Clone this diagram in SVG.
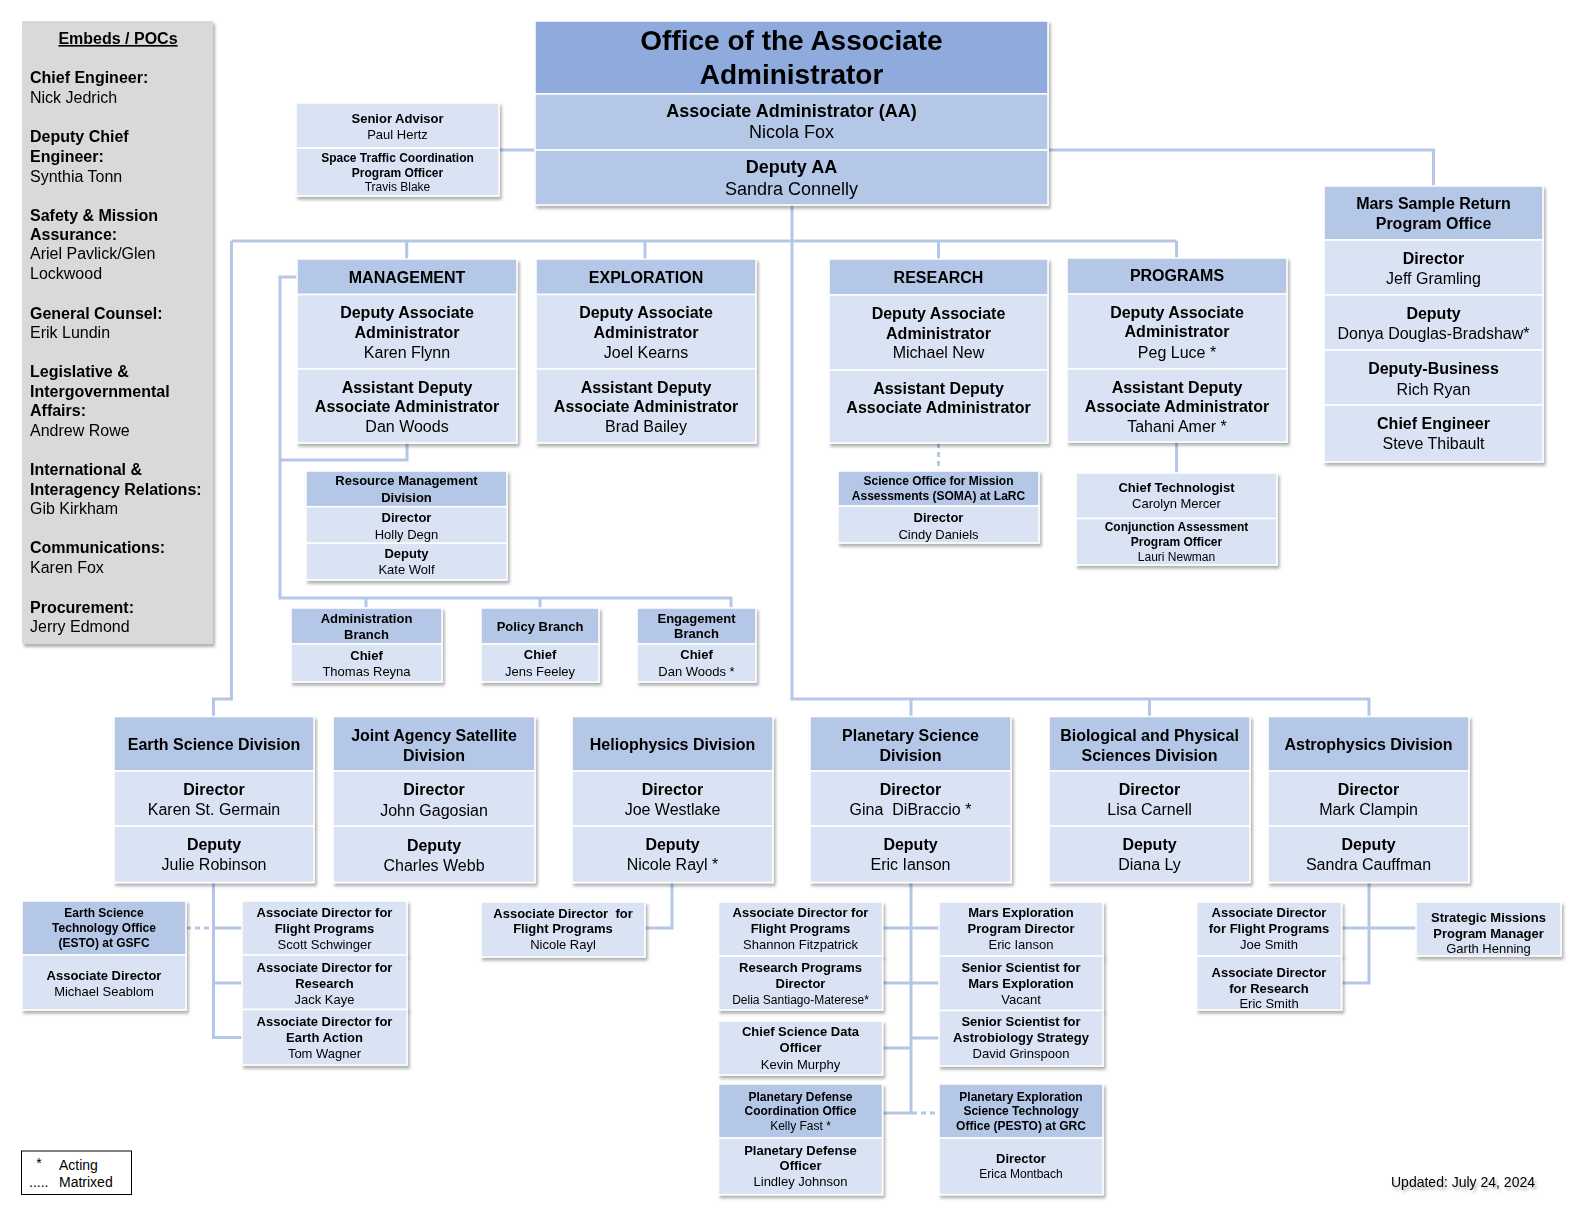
<svg xmlns="http://www.w3.org/2000/svg" width="1578" height="1208" viewBox="0 0 1578 1208">
<defs>
<filter id="sh" x="-10%" y="-10%" width="130%" height="140%">
<feDropShadow dx="2" dy="3" stdDeviation="1.8" flood-color="#000" flood-opacity="0.3"/>
</filter>
<style>
.t{fill:#8faadc;stroke:#fff;stroke-width:1.5}
.h{fill:#b4c7e7;stroke:#fff;stroke-width:1.5}
.b{fill:#dae3f3;stroke:#fff;stroke-width:1.5}
.g{fill:#d9d9d9}
text{font-family:"Liberation Sans",Arial,Helvetica,sans-serif;text-anchor:middle;fill:#000}
.s{text-anchor:start}
.B{font-weight:bold}
.f28{font-size:28px}
.f18{font-size:18px}
.f16{font-size:16px}
.f14{font-size:14px}
.f13{font-size:13px}
.f12{font-size:12px}
.c{fill:none;stroke:#b4c7e7;stroke-width:3}
.d{stroke-dasharray:5 4}
</style>
</defs>
<rect width="1578" height="1208" fill="#fff"/>

<g id="connectors">
<path class="c" d="M499,150 H535"/>
<path class="c" d="M1048,150 H1433.5 V186"/>
<path class="c" d="M792,205 V699 H1369 V716.5"/>
<path class="c" d="M231.5,241 H1176.6"/>
<path class="c" d="M406.7,241 V259 M645,241 V259 M938.5,241 V259 M1176.6,241 V258"/>
<path class="c" d="M231.5,241 V699 H213.5 V716.5"/>
<path class="c" d="M911,699 V716.5 M1149.5,699 V716.5"/>
<path class="c" d="M297,277 H280 V598 H731 V608 M407,443 V460 H280 M366,598 V608 M540,598 V608"/>
<path class="c d" d="M938.5,443 V471"/>
<path class="c" d="M1176.6,442 V473"/>
<path class="c" d="M213.5,882.5 V1037.5 H242 M213.5,928 H242 M213.5,983 H242"/>
<path class="c d" d="M186,928 H212"/>
<path class="c" d="M672,882.5 V928 H645"/>
<path class="c" d="M911,882.5 V1113 H882.6 M882.6,928 H939 M882.6,983 H939 M911,1038 H939 M882.6,1048 H911"/>
<path class="c d" d="M912,1113 H939"/>
<path class="c" d="M1369,882.5 V983 H1341.5 M1341.5,928 H1416"/>
</g>

<g id="embeds" filter="url(#sh)">
<rect class="g" x="22" y="21" width="191" height="623"/>
<text class="B f16" x="118" y="44" text-decoration="underline">Embeds / POCs</text>
<text class="s B f16" x="30" y="83">Chief Engineer:</text>
<text class="s f16" x="30" y="103">Nick Jedrich</text>
<text class="s B f16" x="30" y="141.5">Deputy Chief</text>
<text class="s B f16" x="30" y="161.5">Engineer:</text>
<text class="s f16" x="30" y="181.5">Synthia Tonn</text>
<text class="s B f16" x="30" y="221">Safety &amp; Mission</text>
<text class="s B f16" x="30" y="240">Assurance:</text>
<text class="s f16" x="30" y="259">Ariel Pavlick/Glen</text>
<text class="s f16" x="30" y="279">Lockwood</text>
<text class="s B f16" x="30" y="318.5">General Counsel:</text>
<text class="s f16" x="30" y="337.5">Erik Lundin</text>
<text class="s B f16" x="30" y="377">Legislative &amp;</text>
<text class="s B f16" x="30" y="397">Intergovernmental</text>
<text class="s B f16" x="30" y="416">Affairs:</text>
<text class="s f16" x="30" y="436">Andrew Rowe</text>
<text class="s B f16" x="30" y="474.5">International &amp;</text>
<text class="s B f16" x="30" y="494.5">Interagency Relations:</text>
<text class="s f16" x="30" y="513.5">Gib Kirkham</text>
<text class="s B f16" x="30" y="553">Communications:</text>
<text class="s f16" x="30" y="573">Karen Fox</text>
<text class="s B f16" x="30" y="612.5">Procurement:</text>
<text class="s f16" x="30" y="631.5">Jerry Edmond</text>
</g>

<g id="aa" filter="url(#sh)">
<rect class="t" x="535" y="21" width="513" height="73"/>
<rect class="h" x="535" y="94" width="513" height="56"/>
<rect class="h" x="535" y="150" width="513" height="55"/>
<text class="B f28" x="791.5" y="50">Office of the Associate</text>
<text class="B f28" x="791.5" y="83.5">Administrator</text>
<text class="B f18" x="791.5" y="117">Associate Administrator (AA)</text>
<text class="f18" x="791.5" y="138">Nicola Fox</text>
<text class="B f18" x="791.5" y="172.5">Deputy AA</text>
<text class="f18" x="791.5" y="194.5">Sandra Connelly</text>
</g>

<g id="senior-advisor" filter="url(#sh)">
<rect class="b" x="296" y="103" width="203" height="45"/>
<rect class="b" x="296" y="148" width="203" height="48"/>
<text class="B f13" x="397.5" y="123">Senior Advisor</text>
<text class="f13" x="397.5" y="139">Paul Hertz</text>
<text class="B f12" x="397.5" y="162">Space Traffic Coordination</text>
<text class="B f12" x="397.5" y="177">Program Officer</text>
<text class="f12" x="397.5" y="191">Travis Blake</text>
</g>

<g id="msr" filter="url(#sh)">
<rect class="h" x="1324" y="186" width="219" height="54"/>
<rect class="b" x="1324" y="240" width="219" height="55"/>
<rect class="b" x="1324" y="295" width="219" height="55"/>
<rect class="b" x="1324" y="350" width="219" height="55"/>
<rect class="b" x="1324" y="405" width="219" height="57"/>
<text class="B f16" x="1433.5" y="209">Mars Sample Return</text>
<text class="B f16" x="1433.5" y="229">Program Office</text>
<text class="B f16" x="1433.5" y="264">Director</text>
<text class="f16" x="1433.5" y="284">Jeff Gramling</text>
<text class="B f16" x="1433.5" y="319">Deputy</text>
<text class="f16" x="1433.5" y="339">Donya Douglas-Bradshaw*</text>
<text class="B f16" x="1433.5" y="374">Deputy-Business</text>
<text class="f16" x="1433.5" y="394.5">Rich Ryan</text>
<text class="B f16" x="1433.5" y="429">Chief Engineer</text>
<text class="f16" x="1433.5" y="449">Steve Thibault</text>
</g>

<g id="management" filter="url(#sh)">
<rect class="h" x="297" y="259" width="220" height="35.5"/>
<rect class="b" x="297" y="294.5" width="220" height="74.5"/>
<rect class="b" x="297" y="369" width="220" height="74"/>
<text class="B f16" x="407" y="282.5">MANAGEMENT</text>
<text class="B f16" x="407" y="318">Deputy Associate</text>
<text class="B f16" x="407" y="338">Administrator</text>
<text class="f16" x="407" y="357.5">Karen Flynn</text>
<text class="B f16" x="407" y="392.5">Assistant Deputy</text>
<text class="B f16" x="407" y="411.5">Associate Administrator</text>
<text class="f16" x="407" y="431.5">Dan Woods</text>
</g>

<g id="exploration" filter="url(#sh)">
<rect class="h" x="536" y="259" width="220" height="35.5"/>
<rect class="b" x="536" y="294.5" width="220" height="74.5"/>
<rect class="b" x="536" y="369" width="220" height="74"/>
<text class="B f16" x="646" y="282.5">EXPLORATION</text>
<text class="B f16" x="646" y="318">Deputy Associate</text>
<text class="B f16" x="646" y="338">Administrator</text>
<text class="f16" x="646" y="357.5">Joel Kearns</text>
<text class="B f16" x="646" y="392.5">Assistant Deputy</text>
<text class="B f16" x="646" y="411.5">Associate Administrator</text>
<text class="f16" x="646" y="431.5">Brad Bailey</text>
</g>

<g id="research" filter="url(#sh)">
<rect class="h" x="829" y="259" width="219" height="36"/>
<rect class="b" x="829" y="295" width="219" height="75"/>
<rect class="b" x="829" y="370" width="219" height="73"/>
<text class="B f16" x="938.5" y="282.5">RESEARCH</text>
<text class="B f16" x="938.5" y="319">Deputy Associate</text>
<text class="B f16" x="938.5" y="339">Administrator</text>
<text class="f16" x="938.5" y="358">Michael New</text>
<text class="B f16" x="938.5" y="393.5">Assistant Deputy</text>
<text class="B f16" x="938.5" y="413">Associate Administrator</text>
</g>

<g id="programs" filter="url(#sh)">
<rect class="h" x="1067" y="258" width="220" height="36"/>
<rect class="b" x="1067" y="294" width="220" height="75"/>
<rect class="b" x="1067" y="369" width="220" height="73"/>
<text class="B f16" x="1177" y="281">PROGRAMS</text>
<text class="B f16" x="1177" y="318">Deputy Associate</text>
<text class="B f16" x="1177" y="337">Administrator</text>
<text class="f16" x="1177" y="357.5">Peg Luce *</text>
<text class="B f16" x="1177" y="392.5">Assistant Deputy</text>
<text class="B f16" x="1177" y="411.5">Associate Administrator</text>
<text class="f16" x="1177" y="431.5">Tahani Amer *</text>
</g>

<g id="resource-management" filter="url(#sh)">
<rect class="h" x="306" y="471" width="201" height="35.7"/>
<rect class="b" x="306" y="506.7" width="201" height="36.6"/>
<rect class="b" x="306" y="543.3" width="201" height="36.7"/>
<text class="B f13" x="406.5" y="485">Resource Management</text>
<text class="B f13" x="406.5" y="501.5">Division</text>
<text class="B f13" x="406.5" y="522">Director</text>
<text class="f13" x="406.5" y="538.5">Holly Degn</text>
<text class="B f13" x="406.5" y="558">Deputy</text>
<text class="f13" x="406.5" y="574">Kate Wolf</text>
</g>

<g id="administration-branch" filter="url(#sh)">
<rect class="h" x="291" y="608" width="151" height="36"/>
<rect class="b" x="291" y="644" width="151" height="38"/>
<text class="B f13" x="366.5" y="623">Administration</text>
<text class="B f13" x="366.5" y="639">Branch</text>
<text class="B f13" x="366.5" y="659.5">Chief</text>
<text class="f13" x="366.5" y="675.5">Thomas Reyna</text>
</g>

<g id="policy-branch" filter="url(#sh)">
<rect class="h" x="481" y="608" width="118" height="36"/>
<rect class="b" x="481" y="644" width="118" height="38"/>
<text class="B f13" x="540" y="630.5">Policy Branch</text>
<text class="B f13" x="540" y="659">Chief</text>
<text class="f13" x="540" y="675.5">Jens Feeley</text>
</g>

<g id="engagement-branch" filter="url(#sh)">
<rect class="h" x="637" y="608" width="119" height="36"/>
<rect class="b" x="637" y="644" width="119" height="38"/>
<text class="B f13" x="696.5" y="622.5">Engagement</text>
<text class="B f13" x="696.5" y="638">Branch</text>
<text class="B f13" x="696.5" y="659">Chief</text>
<text class="f13" x="696.5" y="675.5">Dan Woods *</text>
</g>

<g id="soma" filter="url(#sh)">
<rect class="h" x="838" y="471" width="201" height="35"/>
<rect class="b" x="838" y="506" width="201" height="37"/>
<text class="B f12" x="938.5" y="485">Science Office for Mission</text>
<text class="B f12" x="938.5" y="500">Assessments (SOMA) at LaRC</text>
<text class="B f13" x="938.5" y="522">Director</text>
<text class="f13" x="938.5" y="538.5">Cindy Daniels</text>
</g>

<g id="chief-technologist" filter="url(#sh)">
<rect class="b" x="1076" y="473" width="201" height="45.5"/>
<rect class="b" x="1076" y="518.5" width="201" height="46.5"/>
<text class="B f13" x="1176.5" y="492">Chief Technologist</text>
<text class="f13" x="1176.5" y="508">Carolyn Mercer</text>
<text class="B f12" x="1176.5" y="531">Conjunction Assessment</text>
<text class="B f12" x="1176.5" y="546">Program Officer</text>
<text class="f12" x="1176.5" y="561">Lauri Newman</text>
</g>

<g id="earth-science" filter="url(#sh)">
<rect class="h" x="114" y="716.5" width="200" height="54.5"/>
<rect class="b" x="114" y="771" width="200" height="55"/>
<rect class="b" x="114" y="826" width="200" height="56.5"/>
<text class="B f16" x="214" y="750">Earth Science Division</text>
<text class="B f16" x="214" y="794.5">Director</text>
<text class="f16" x="214" y="815">Karen St. Germain</text>
<text class="B f16" x="214" y="850">Deputy</text>
<text class="f16" x="214" y="870">Julie Robinson</text>
</g>

<g id="jasd" filter="url(#sh)">
<rect class="h" x="333" y="716.5" width="202" height="54.5"/>
<rect class="b" x="333" y="771" width="202" height="55"/>
<rect class="b" x="333" y="826" width="202" height="56.5"/>
<text class="B f16" x="434" y="740.5">Joint Agency Satellite</text>
<text class="B f16" x="434" y="760.5">Division</text>
<text class="B f16" x="434" y="795">Director</text>
<text class="f16" x="434" y="815.5">John Gagosian</text>
<text class="B f16" x="434" y="850.5">Deputy</text>
<text class="f16" x="434" y="870.5">Charles Webb</text>
</g>

<g id="heliophysics" filter="url(#sh)">
<rect class="h" x="572" y="716.5" width="201" height="54.5"/>
<rect class="b" x="572" y="771" width="201" height="55"/>
<rect class="b" x="572" y="826" width="201" height="56.5"/>
<text class="B f16" x="672.5" y="750">Heliophysics Division</text>
<text class="B f16" x="672.5" y="794.5">Director</text>
<text class="f16" x="672.5" y="815">Joe Westlake</text>
<text class="B f16" x="672.5" y="850">Deputy</text>
<text class="f16" x="672.5" y="870">Nicole Rayl *</text>
</g>

<g id="planetary" filter="url(#sh)">
<rect class="h" x="810" y="716.5" width="201" height="54.5"/>
<rect class="b" x="810" y="771" width="201" height="55"/>
<rect class="b" x="810" y="826" width="201" height="56.5"/>
<text class="B f16" x="910.5" y="740.5">Planetary Science</text>
<text class="B f16" x="910.5" y="760.5">Division</text>
<text class="B f16" x="910.5" y="794.5">Director</text>
<text class="f16" x="910.5" y="815" xml:space="preserve">Gina  DiBraccio *</text>
<text class="B f16" x="910.5" y="850">Deputy</text>
<text class="f16" x="910.5" y="870">Eric Ianson</text>
</g>

<g id="bps" filter="url(#sh)">
<rect class="h" x="1049" y="716.5" width="201" height="54.5"/>
<rect class="b" x="1049" y="771" width="201" height="55"/>
<rect class="b" x="1049" y="826" width="201" height="56.5"/>
<text class="B f16" x="1149.5" y="740.5">Biological and Physical</text>
<text class="B f16" x="1149.5" y="760.5">Sciences Division</text>
<text class="B f16" x="1149.5" y="794.5">Director</text>
<text class="f16" x="1149.5" y="815">Lisa Carnell</text>
<text class="B f16" x="1149.5" y="850">Deputy</text>
<text class="f16" x="1149.5" y="870">Diana Ly</text>
</g>

<g id="astrophysics" filter="url(#sh)">
<rect class="h" x="1268" y="716.5" width="201" height="54.5"/>
<rect class="b" x="1268" y="771" width="201" height="55"/>
<rect class="b" x="1268" y="826" width="201" height="56.5"/>
<text class="B f16" x="1368.5" y="750">Astrophysics Division</text>
<text class="B f16" x="1368.5" y="794.5">Director</text>
<text class="f16" x="1368.5" y="815">Mark Clampin</text>
<text class="B f16" x="1368.5" y="850">Deputy</text>
<text class="f16" x="1368.5" y="870">Sandra Cauffman</text>
</g>

<g id="esto" filter="url(#sh)">
<rect class="h" x="22" y="901" width="164" height="54"/>
<rect class="b" x="22" y="955" width="164" height="55"/>
<text class="B f12" x="104" y="917">Earth Science</text>
<text class="B f12" x="104" y="932">Technology Office</text>
<text class="B f12" x="104" y="947">(ESTO) at GSFC</text>
<text class="B f13" x="104" y="979.5">Associate Director</text>
<text class="f13" x="104" y="995.5">Michael Seablom</text>
</g>

<g id="esd-flight" filter="url(#sh)">
<rect class="b" x="242" y="901" width="165" height="54"/>
<text class="B f13" x="324.5" y="916.5">Associate Director for</text>
<text class="B f13" x="324.5" y="932.5">Flight Programs</text>
<text class="f13" x="324.5" y="948.5">Scott Schwinger</text>
</g>
<g id="esd-research" filter="url(#sh)">
<rect class="b" x="242" y="955" width="165" height="54.5"/>
<text class="B f13" x="324.5" y="971.5">Associate Director for</text>
<text class="B f13" x="324.5" y="987.5">Research</text>
<text class="f13" x="324.5" y="1003.5">Jack Kaye</text>
</g>
<g id="esd-earth-action" filter="url(#sh)">
<rect class="b" x="242" y="1009.5" width="165" height="55.5"/>
<text class="B f13" x="324.5" y="1026">Associate Director for</text>
<text class="B f13" x="324.5" y="1042">Earth Action</text>
<text class="f13" x="324.5" y="1058">Tom Wagner</text>
</g>

<g id="helio-flight" filter="url(#sh)">
<rect class="b" x="481" y="902" width="164" height="55"/>
<text class="B f13" x="563" y="917.5" xml:space="preserve">Associate Director  for</text>
<text class="B f13" x="563" y="932.5">Flight Programs</text>
<text class="f13" x="563" y="948.5">Nicole Rayl</text>
</g>

<g id="psd-flight" filter="url(#sh)">
<rect class="b" x="718.5" y="902" width="164" height="54"/>
<text class="B f13" x="800.5" y="916.5">Associate Director for</text>
<text class="B f13" x="800.5" y="932.5">Flight Programs</text>
<text class="f13" x="800.5" y="948.5">Shannon Fitzpatrick</text>
</g>
<g id="psd-research" filter="url(#sh)">
<rect class="b" x="718.5" y="956" width="164" height="54"/>
<text class="B f13" x="800.5" y="971.5">Research Programs</text>
<text class="B f13" x="800.5" y="987.5">Director</text>
<text class="f12" x="800.5" y="1003.5">Delia Santiago-Materese*</text>
</g>
<g id="psd-data" filter="url(#sh)">
<rect class="b" x="718.5" y="1021" width="164" height="54"/>
<text class="B f13" x="800.5" y="1036">Chief Science Data</text>
<text class="B f13" x="800.5" y="1052">Officer</text>
<text class="f13" x="800.5" y="1068.5">Kevin Murphy</text>
</g>
<g id="pdco" filter="url(#sh)">
<rect class="h" x="718.5" y="1084" width="164" height="54"/>
<rect class="b" x="718.5" y="1138" width="164" height="56.6"/>
<text class="B f12" x="800.5" y="1101">Planetary Defense</text>
<text class="B f12" x="800.5" y="1115">Coordination Office</text>
<text class="f12" x="800.5" y="1130">Kelly Fast *</text>
<text class="B f13" x="800.5" y="1154.5">Planetary Defense</text>
<text class="B f13" x="800.5" y="1170">Officer</text>
<text class="f13" x="800.5" y="1186">Lindley Johnson</text>
</g>

<g id="psd-mars" filter="url(#sh)">
<rect class="b" x="939" y="902" width="164" height="54"/>
<text class="B f13" x="1021" y="916.5">Mars Exploration</text>
<text class="B f13" x="1021" y="932.5">Program Director</text>
<text class="f13" x="1021" y="948.5">Eric Ianson</text>
</g>
<g id="psd-mars-scientist" filter="url(#sh)">
<rect class="b" x="939" y="956" width="164" height="54.5"/>
<text class="B f13" x="1021" y="971.5">Senior Scientist for</text>
<text class="B f13" x="1021" y="987.5">Mars Exploration</text>
<text class="f13" x="1021" y="1003.5">Vacant</text>
</g>
<g id="psd-astrobiology" filter="url(#sh)">
<rect class="b" x="939" y="1010.5" width="164" height="55.5"/>
<text class="B f13" x="1021" y="1026">Senior Scientist for</text>
<text class="B f13" x="1021" y="1042">Astrobiology Strategy</text>
<text class="f13" x="1021" y="1058">David Grinspoon</text>
</g>
<g id="pesto" filter="url(#sh)">
<rect class="h" x="939" y="1084" width="164" height="54"/>
<rect class="b" x="939" y="1138" width="164" height="56.6"/>
<text class="B f12" x="1021" y="1101">Planetary Exploration</text>
<text class="B f12" x="1021" y="1115">Science Technology</text>
<text class="B f12" x="1021" y="1130">Office (PESTO) at GRC</text>
<text class="B f13" x="1021" y="1162.5">Director</text>
<text class="f12" x="1021" y="1177.5">Erica Montbach</text>
</g>

<g id="apd-flight" filter="url(#sh)">
<rect class="b" x="1196.6" y="902" width="145" height="54"/>
<text class="B f13" x="1269" y="916.5">Associate Director</text>
<text class="B f13" x="1269" y="932.5">for Flight Programs</text>
<text class="f13" x="1269" y="948.5">Joe Smith</text>
</g>
<g id="apd-research" filter="url(#sh)">
<rect class="b" x="1196.6" y="956" width="145" height="54"/>
<text class="B f13" x="1269" y="976.5">Associate Director</text>
<text class="B f13" x="1269" y="992.5">for Research</text>
<text class="f13" x="1269" y="1007.5">Eric Smith</text>
</g>
<g id="strategic-missions" filter="url(#sh)">
<rect class="b" x="1416" y="902" width="145" height="54"/>
<text class="B f13" x="1488.5" y="921.5">Strategic Missions</text>
<text class="B f13" x="1488.5" y="937.5">Program Manager</text>
<text class="f13" x="1488.5" y="952.5">Garth Henning</text>
</g>

<g id="legend">
<rect x="21.5" y="1151" width="110" height="43.5" fill="#fff" stroke="#000" stroke-width="1"/>
<text class="f14" x="39" y="1168">*</text>
<text class="s f14" x="59" y="1169.5">Acting</text>
<text class="s f14" x="29" y="1186.5">.....</text>
<text class="s f14" x="59" y="1186.5">Matrixed</text>
</g>

<text class="s f14" x="1391" y="1187" filter="url(#sh)">Updated: July 24, 2024</text>
</svg>
